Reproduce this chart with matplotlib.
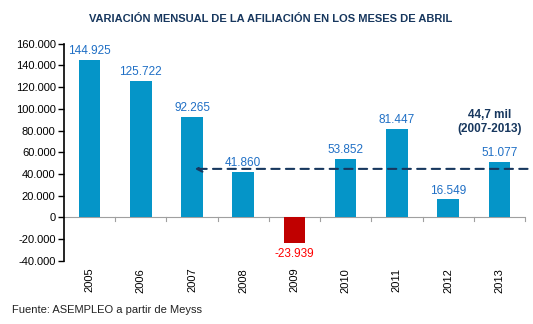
import matplotlib.pyplot as plt
from matplotlib.ticker import FuncFormatter

plt.rcParams["font.family"] = ["Liberation Sans", "DejaVu Sans"]

years = ["2005", "2006", "2007", "2008", "2009", "2010", "2011", "2012", "2013"]
afiliados = [144925, 125722, 92265, 41860, -23939, 53852, 81447, 16549, 51077]
media_2007_2013 = 44700

BLUE = "#0595C8"
RED = "#C00000"
NAVY = "#17375E"


def fmt_miles(v, pos=None):
    return f"{v:,.0f}".replace(",", ".")


fig = plt.figure(figsize=(5.33, 3.24), dpi=100)
ax = fig.add_axes([0.12, 0.195, 0.865, 0.67])

x = list(range(len(years)))
colors = [RED if v < 0 else BLUE for v in afiliados]
ax.bar(x, afiliados, width=0.42, color=colors, zorder=2)

for xi, v in zip(x, afiliados):
    if v < 0:
        ax.annotate(fmt_miles(v), (xi, v), xytext=(0, -3), textcoords="offset points",
                    ha="center", va="top", fontsize=8.5, color="#FF0000")
    else:
        ax.annotate(fmt_miles(v), (xi, v), xytext=(0, 2), textcoords="offset points",
                    ha="center", va="bottom", fontsize=8.5, color="#1F6FC5")

# average line with arrow pointing to 2007
ax.annotate("", xy=(2.05, media_2007_2013), xytext=(8.55, media_2007_2013),
            arrowprops=dict(arrowstyle="->", color=NAVY, lw=1.5, ls=(0, (4, 3)),
                            shrinkA=0, shrinkB=0, mutation_scale=10),
            zorder=3)
ax.text(7.8, 88000, "44,7 mil\n(2007-2013)", ha="center", va="center",
        fontsize=8.5, fontweight="bold", color=NAVY, linespacing=1.3)

ax.set_xlim(-0.5, 8.5)
ax.set_ylim(-40000, 160000)
ax.set_yticks(range(-40000, 160001, 20000))
ax.yaxis.set_major_formatter(FuncFormatter(fmt_miles))
ax.tick_params(axis="y", labelsize=8, length=4, width=1, direction="out", pad=2)

for s in ["top", "right", "bottom"]:
    ax.spines[s].set_visible(False)
ax.spines["left"].set_linewidth(1.2)
ax.axhline(0, color="#A0A0A0", lw=0.8, zorder=1)

ax.set_xticks(x)
ax.set_xticklabels(years, rotation=90, fontsize=8)
ax.tick_params(axis="x", length=0, pad=5)
for b in [i + 0.5 for i in range(len(years))]:
    ax.plot([b, b], [0, -3000], color="#A0A0A0", lw=0.8, clip_on=False)

fig.text(0.507, 0.94, "VARIACIÓN MENSUAL DE LA AFILIACIÓN EN LOS MESES DE ABRIL",
         ha="center", va="center", fontsize=8, fontweight="bold", color=NAVY)
fig.text(0.022, 0.033, "Fuente: ASEMPLEO a partir de Meyss", fontsize=8, color="#222222")

fig.savefig("out.png", dpi=100)
